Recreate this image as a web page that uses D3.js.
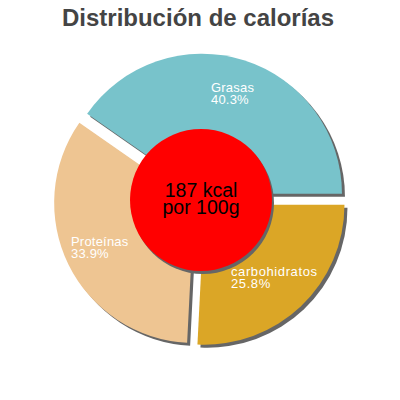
<!DOCTYPE html>
<html><head><meta charset="utf-8">
<script src="https://cdn.jsdelivr.net/npm/d3@7"></script>
<style>body{margin:0;background:#fff}svg{display:block}</style>
</head><body>
<script>
const categories = ["carbohidratos", "Proteínas", "Grasas"];
const values = [25.8, 33.9, 40.3];
const colors = ["#dba626", "#eec592", "#78c3cb"];
const title = "Distribución de calorías";
const centerLines = ["187 kcal", "por 100g"];

const W = 400, H = 400, cx = 200, cy = 200, R = 140, explode = 6.5;
const svg = d3.select("body").append("svg").attr("width", W).attr("height", H);

svg.append("text").attr("x", 198).attr("y", 26).attr("text-anchor", "middle")
  .attr("font-family", "Liberation Sans, Arial, sans-serif").attr("font-weight", "bold")
  .attr("font-size", 24).attr("fill", "#444").text(title);

const data = categories.map((c, i) => ({ name: c, value: values[i], color: colors[i] }));
const pie = d3.pie().value(d => d.value).sort(null)
  .startAngle(Math.PI / 2).endAngle(Math.PI / 2 + 2 * Math.PI);
const arcs = pie(data);
const arc = d3.arc().innerRadius(0).outerRadius(R);

const g = svg.append("g").attr("transform", `translate(${cx},${cy})`);
function off(a) {
  const m = (a.startAngle + a.endAngle) / 2;
  return [Math.sin(m) * explode, -Math.cos(m) * explode];
}
// shadows
g.selectAll("path.sh").data(arcs).join("path").attr("class", "sh")
  .attr("d", arc).attr("fill", "#666")
  .attr("transform", d => { const o = off(d); return `translate(${o[0] + 3},${o[1] + 3})`; });
g.selectAll("path.sl").data(arcs).join("path").attr("class", "sl")
  .attr("d", arc).attr("fill", d => d.data.color)
  .attr("transform", d => { const o = off(d); return `translate(${o[0]},${o[1]})`; });

// labels
const labelPos = { "Grasas": [211, 92], "Proteínas": [71, 246], "carbohidratos": [231, 276] };
arcs.forEach(a => {
  const p = labelPos[a.data.name];
  const t = g.append("text").attr("x", p[0] - cx).attr("y", p[1] - cy)
    .attr("font-family", "Liberation Sans, Arial, sans-serif").attr("font-size", 13)
    .attr("letter-spacing", a.data.name === "carbohidratos" ? 0.6 : 0.2)
    .attr("fill", "#fff");
  t.append("tspan").attr("x", p[0] - cx).text(a.data.name);
  t.append("tspan").attr("x", p[0] - cx).attr("dy", 12).text(d3.format(".1f")(a.data.value) + "%");
});

// center
g.append("circle").attr("cx", 3).attr("cy", 3).attr("r", 71).attr("fill", "#666");
g.append("circle").attr("cx", 1).attr("cy", 0).attr("r", 71).attr("fill", "#ff0000");
const ct = g.append("text").attr("text-anchor", "middle")
  .attr("font-family", "Liberation Sans, Arial, sans-serif").attr("font-size", 19.5).attr("fill", "#000");
ct.append("tspan").attr("x", 1).attr("y", -3).text(centerLines[0]);
ct.append("tspan").attr("x", 1).attr("y", 14).text(centerLines[1]);
</script>
</body></html>
